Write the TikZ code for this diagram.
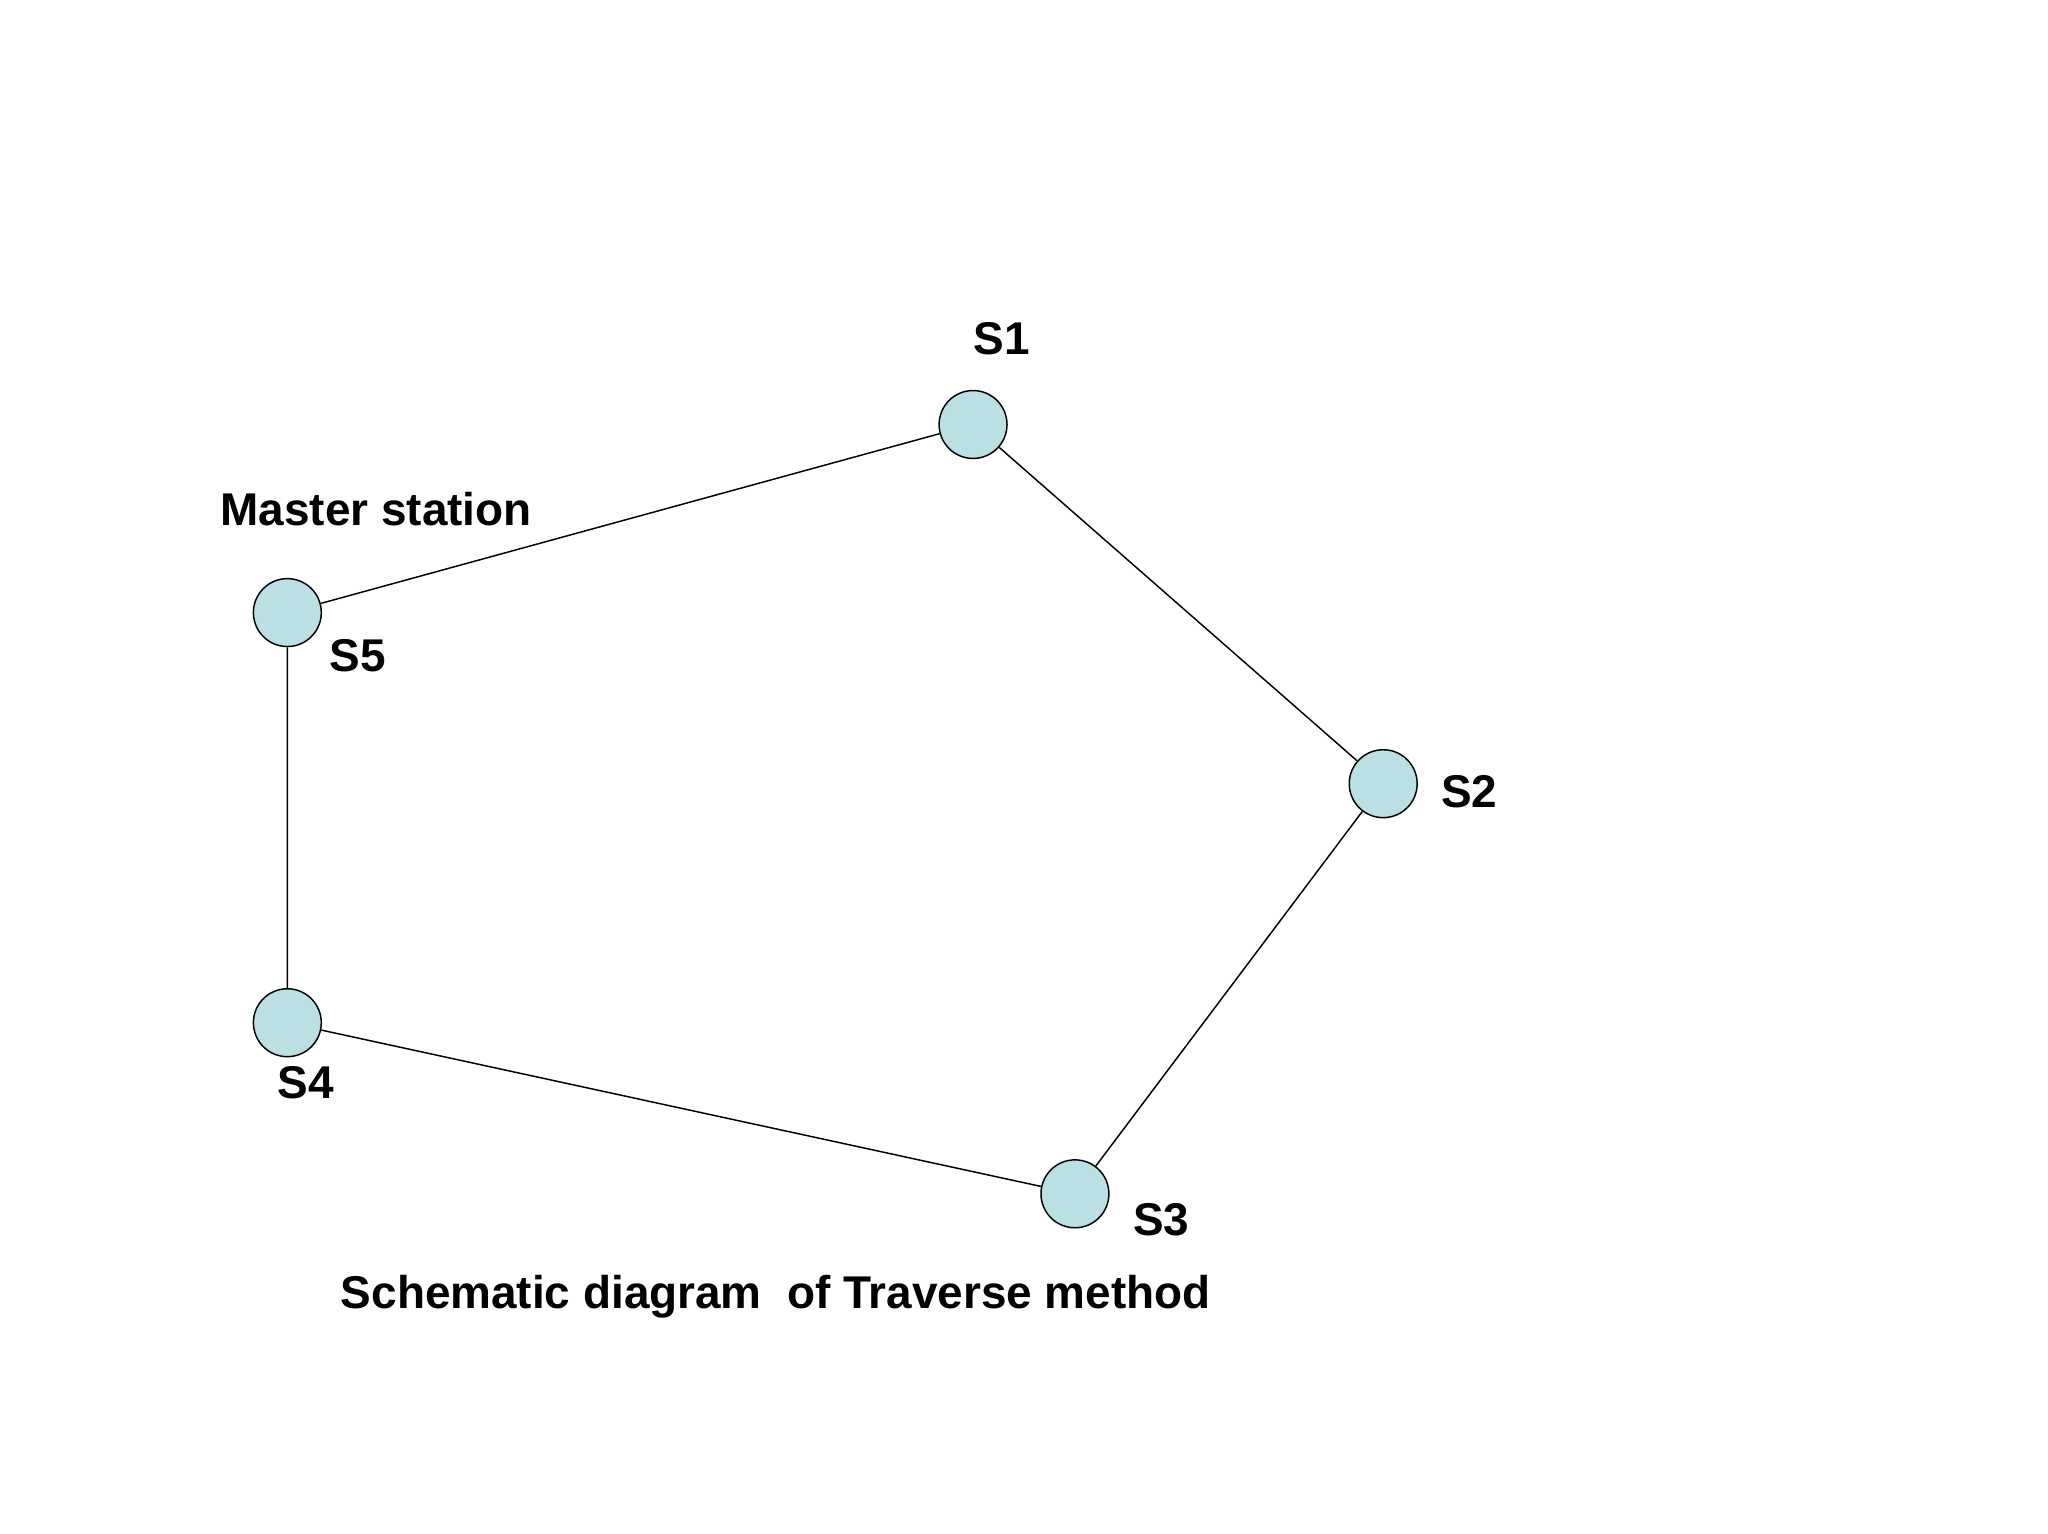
\documentclass[tikz,border=0pt]{standalone}
\usepackage{fontspec}
\setmainfont{Liberation Sans}
\definecolor{stfill}{RGB}{187,224,227}
\begin{document}
\begin{tikzpicture}[x=0.05cm,y=-0.05cm,
  st/.style={circle,draw=black,line width=1.6pt,fill=stfill,minimum size=2.6cm,inner sep=0pt},
  lbl/.style={font=\fontsize{50}{60}\selectfont\bfseries,inner sep=0pt},
  edge/.style={line width=1.6pt}]
\useasboundingbox (0,0) rectangle (1568,1174);
\node[st] (s1) at (745,325) {};
\node[st] (s5) at (220,469) {};
\node[st] (s2) at (1059,600) {};
\node[st] (s3) at (823,914) {};
\node[st] (s4) at (220,783) {};
\draw[edge] (s5) -- (s1) (s1) -- (s2) (s2) -- (s3) (s3) -- (s4) (s4) -- (s5);
\node[lbl] (l1) at (767,259) {S1};
\node[lbl] (lm) at (288,390) {Master station};
\node[lbl] (l5) at (274,502) {S5};
\node[lbl] (l2) at (1125,606) {S2};
\node[lbl] (l4) at (234,829) {S4};
\node[lbl] (l3) at (889,934) {S3};
\node[lbl] (cap) at (594,993) {Schematic diagram\ \ of Traverse method};
\end{tikzpicture}
\end{document}
